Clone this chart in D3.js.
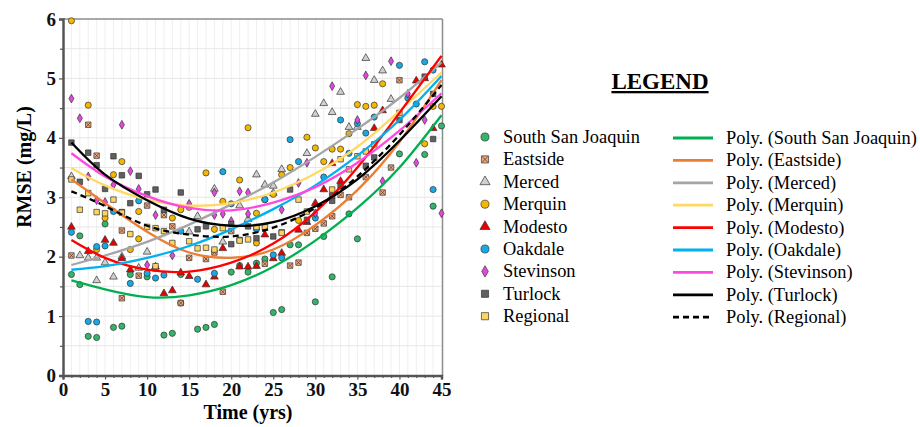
<!DOCTYPE html>
<html>
<head>
<meta charset="utf-8">
<script src="https://cdn.jsdelivr.net/npm/d3@7"></script>
<style>
  body { margin: 0; background: #fff; }
  svg { display: block; font-family: "Liberation Serif", "Times New Roman", serif; }
</style>
</head>
<body>
<svg id="chart" width="920" height="427"></svg>
<script>
// district names, in legend order
let districts = ["South San Joaquin", "Eastside", "Merced", "Merquin", "Modesto",
                 "Oakdale", "Stevinson", "Turlock", "Regional"];

// scatter points [year, RMSE]
let ssjPts = [[1,1.70],[2,1.53],[2,2.35],[3,0.66],[4,0.64],[5,2.55],[6,0.81],[7,0.83],[8,1.70],
  [10,1.66],[12,0.68],[13,0.71],[14,1.70],[14,1.22],[16,0.78],[17,0.81],[18,0.86],[20,1.74],
  [21,1.85],[22,1.74],[23,1.89],[24,1.96],[25,1.06],[26,1.11],[27,2.20],[28,2.20],[30,1.24],
  [31,2.34],[32,1.66],[34,2.72],[35,2.30],[40,3.73],[43,3.72],[44,2.85],[45,4.20]];
let eastsidePts = [[1,2.02],[3,4.22],[4,3.70],[7,1.30],[7,2.44],[9,1.68],[10,2.86],[11,1.80],
  [12,2.70],[13,2.51],[14,1.22],[15,1.98],[17,1.96],[18,2.07],[19,1.41],[20,2.43],[24,1.88],
  [26,2.41],[27,1.85],[28,1.90],[29,2.40],[30,2.47],[31,2.56],[32,2.68],[33,3.04],[34,3.00],
  [36,3.34],[38,3.08],[39,3.50],[40,4.97]];
let mercedPts = [[1,3.35],[2,2.02],[3,1.98],[4,1.98],[4,1.60],[5,1.90],[6,1.66],[7,2.00],
  [9,1.81],[10,2.08],[15,2.42],[16,2.68],[18,3.14],[19,2.25],[21,2.86],[22,2.63],[23,3.38],
  [24,3.21],[25,3.19],[25,3.07],[26,3.47],[29,3.74],[30,4.40],[31,4.58],[32,4.43],[33,4.77],
  [34,4.18],[35,4.18],[36,5.34],[37,4.97],[38,5.13],[39,4.65]];
let merquinPts = [[1,5.97],[3,4.55],[4,2.12],[5,2.65],[6,3.38],[7,3.60],[8,2.12],[9,2.30],
  [9,2.76],[13,2.65],[14,2.79],[15,2.83],[17,3.41],[18,2.46],[19,2.93],[21,3.29],[22,4.17],
  [23,2.73],[23,2.23],[24,2.96],[25,3.05],[26,3.38],[27,3.50],[28,2.61],[29,4.01],[30,3.83],
  [31,3.60],[32,3.81],[33,3.81],[34,4.07],[35,4.56],[36,4.53],[37,4.55],[38,4.91],[43,3.90],
  [44,4.53],[45,4.53]];
let modestoPts = [[1,2.50],[3,2.09],[5,2.28],[6,2.23],[7,1.97],[8,1.78],[11,1.83],[12,1.38],
  [13,1.43],[14,1.73],[15,1.67],[17,1.53],[18,1.66],[19,2.14],[21,1.83],[22,1.83],[23,1.84],
  [24,2.37],[25,1.97],[26,2.06],[28,2.45],[29,2.58],[30,2.90],[31,3.13],[32,3.57],[33,3.27],
  [37,4.16],[38,4.46],[42,4.96],[43,5.00],[44,4.16],[45,5.23]];
let oakdalePts = [[1,2.41],[3,0.91],[4,0.90],[4,2.17],[5,2.18],[6,2.76],[8,1.55],[9,2.94],
  [10,1.72],[11,1.64],[12,1.69],[14,2.43],[16,1.62],[18,1.72],[19,3.43],[20,2.89],[23,2.46],
  [24,2.96],[25,2.03],[26,1.98],[27,3.97],[28,3.60],[30,2.65],[31,3.34],[33,4.30],[34,3.74],
  [35,4.24],[36,4.08],[37,4.35],[40,5.22],[41,4.67],[42,4.57],[43,5.28],[44,5.14],[44,3.13]];
let stevinsonPts = [[1,4.66],[2,4.33],[3,3.35],[4,2.95],[5,2.92],[6,3.21],[7,4.22],[8,3.44],
  [9,3.14],[10,1.86],[11,2.70],[13,2.02],[15,2.89],[18,3.08],[18,2.70],[19,2.72],[20,2.60],
  [21,3.10],[22,3.08],[22,2.72],[26,2.79],[28,3.24],[29,3.58],[30,2.73],[32,4.87],[35,4.30],
  [36,5.05],[38,3.27],[39,5.29],[41,4.74],[42,3.58],[43,4.30],[45,2.73]];
let turlockPts = [[1,3.92],[2,3.26],[3,3.75],[4,3.54],[5,3.14],[6,3.69],[7,3.37],[7,2.75],
  [8,2.90],[9,3.36],[10,3.05],[11,3.13],[12,2.79],[14,3.08],[16,2.46],[17,2.51],[20,2.21],
  [20,2.55],[21,2.28],[22,2.51],[23,2.31],[25,2.34],[27,3.13],[29,2.62],[32,2.94],[32,3.03],
  [33,3.18],[36,3.53],[37,3.67],[40,4.30],[43,5.03],[44,3.98],[44,4.74]];
let regionalPts = [[1,3.30],[2,2.79],[3,3.07],[4,2.75],[5,2.73],[6,2.96],[7,2.74],[8,2.38],
  [10,2.50],[11,2.48],[11,1.84],[12,2.43],[13,2.23],[15,2.26],[16,2.14],[17,2.15],[18,2.12],
  [19,2.48],[21,2.27],[22,2.29],[23,2.50],[24,2.50],[26,2.40],[28,2.96],[29,2.76],[32,3.13],
  [33,3.64],[34,3.47],[35,3.69],[36,3.77],[37,3.89],[40,4.42]];

// polynomial trend lines, values read at these years
let trendYears = [1, 5, 10, 15, 20, 25, 30, 35, 40, 45];
let ssjTrend       = [1.60, 1.45, 1.32, 1.35, 1.52, 1.83, 2.27, 2.82, 3.50, 4.38];
let eastsideTrend  = [3.30, 2.90, 2.42, 2.07, 1.98, 2.12, 2.53, 3.12, 3.93, 4.97];
let mercedTrend    = [1.86, 2.02, 2.25, 2.54, 2.88, 3.25, 3.68, 4.15, 4.67, 5.27];
let merquinTrend   = [3.49, 3.20, 2.96, 2.86, 2.90, 3.08, 3.40, 3.85, 4.45, 5.10];
let modestoTrend   = [2.28, 1.98, 1.78, 1.75, 1.90, 2.22, 2.75, 3.50, 4.42, 5.38];
let oakdaleTrend   = [1.78, 1.84, 1.98, 2.18, 2.46, 2.80, 3.20, 3.70, 4.30, 5.04];
let stevinsonTrend = [3.74, 3.35, 3.02, 2.82, 2.78, 2.91, 3.17, 3.58, 4.12, 4.75];
let turlockTrend   = [3.92, 3.38, 2.95, 2.64, 2.52, 2.58, 2.85, 3.30, 3.95, 4.70];
let regionalTrend  = [3.10, 2.85, 2.52, 2.37, 2.34, 2.49, 2.82, 3.35, 4.05, 4.89];

let xTicks = [0, 5, 10, 15, 20, 25, 30, 35, 40, 45];
let yTicks = [0, 1, 2, 3, 4, 5, 6];

let pointSets = [ssjPts, eastsidePts, mercedPts, merquinPts, modestoPts,
                 oakdalePts, stevinsonPts, turlockPts, regionalPts];
let trendSets = [ssjTrend, eastsideTrend, mercedTrend, merquinTrend, modestoTrend,
                 oakdaleTrend, stevinsonTrend, turlockTrend, regionalTrend];

// marker look per district
let markerShape = ["circle", "xsquare", "triangle", "circle", "triangle",
                   "circle", "diamond", "square", "square"];
let markerFill = ["#33b46a", "#eeaa80", "#d0d0d0", "#f5b800", "#e60000",
                  "#16a9e6", "#e545e0", "#5f5f5f", "#fbd462"];
let lineColor = ["#00b050", "#ed7d31", "#a5a5a5", "#ffd966", "#ff0000",
                 "#00b0f0", "#ff48e0", "#000000", "#000000"];

const serif = "Liberation Serif, Times New Roman, serif";
let svg = d3.select("#chart");

let x = d3.scaleLinear().domain([0, 45]).range([63, 441.5]);
let y = d3.scaleLinear().domain([0, 6]).range([375.5, 19]);

// grid
let grid = svg.append("g");
grid.selectAll(".vg")
  .data(d3.range(1, 45))
  .enter().append("line")
  .attr("x1", d => x(d)).attr("x2", d => x(d))
  .attr("y1", y(6)).attr("y2", y(0))
  .attr("stroke", "#efefef").attr("stroke-width", 1);
grid.selectAll(".hg")
  .data(d3.range(0.5, 6, 0.5))
  .enter().append("line")
  .attr("x1", x(0)).attr("x2", x(45))
  .attr("y1", d => y(d)).attr("y2", d => y(d))
  .attr("stroke", "#e6e6e6").attr("stroke-width", 1);

// frame top / right
svg.append("line").attr("x1", x(0)).attr("x2", x(45) + 1).attr("y1", y(6)).attr("y2", y(6))
  .attr("stroke", "#8c8c8c").attr("stroke-width", 1.5);
svg.append("line").attr("x1", x(45) + 1).attr("x2", x(45) + 1).attr("y1", y(6)).attr("y2", y(0))
  .attr("stroke", "#8c8c8c").attr("stroke-width", 1.5);

// markers
let symSize = { circle: 30, triangle: 26, diamond: 22, square: 30, xsquare: 30 };
let symType = { circle: d3.symbolCircle, triangle: d3.symbolTriangle, diamond: d3.symbolDiamond,
                square: d3.symbolSquare, xsquare: d3.symbolSquare };

function drawMarker(g, i, cx, cy, scale) {
  let shape = markerShape[i];
  let m = g.append("g").attr("transform", "translate(" + cx + "," + cy + ")");
  m.append("path")
    .attr("d", d3.symbol().type(symType[shape]).size(symSize[shape] * scale)())
    .attr("fill", markerFill[i])
    .attr("stroke", "#333")
    .attr("stroke-width", 0.7);
  if (shape == "xsquare") {
    let h = Math.sqrt(symSize[shape] * scale) / 2 - 0.6;
    m.append("path")
      .attr("d", "M" + (-h) + "," + (-h) + "L" + h + "," + h + "M" + h + "," + (-h) + "L" + (-h) + "," + h)
      .attr("stroke", "#6b3a1f").attr("stroke-width", 0.8);
  }
}

let pts = svg.append("g");
pointSets.forEach((set, i) => {
  set.forEach(p => drawMarker(pts, i, x(p[0]), y(p[1]), 1));
});

// trend lines
let line = d3.line()
  .x(d => x(d[0]))
  .y(d => y(d[1]))
  .curve(d3.curveNatural);

trendSets.forEach((vals, i) => {
  svg.append("path")
    .datum(trendYears.map((t, k) => [t, vals[k]]))
    .attr("d", line)
    .attr("fill", "none")
    .attr("stroke", lineColor[i])
    .attr("stroke-width", 2.3)
    .attr("stroke-dasharray", i == 8 ? "6,4" : null);
});

// axes
let yAxis = svg.append("g").attr("transform", "translate(" + x(0) + ",0)")
  .call(d3.axisLeft(y).tickValues(yTicks).tickSize(4).tickFormat(d3.format("d")));
svg.append("g").attr("transform", "translate(" + x(0) + ",0)")
  .call(d3.axisLeft(y).tickValues(d3.range(0.5, 6, 1)).tickSize(3).tickFormat(""))
  .select(".domain").remove();
let xAxis = svg.append("g").attr("transform", "translate(0," + y(0) + ")")
  .call(d3.axisBottom(x).tickValues(xTicks).tickSize(4).tickFormat(d3.format("d")));
svg.append("g").attr("transform", "translate(0," + y(0) + ")")
  .call(d3.axisBottom(x).tickValues(d3.range(1, 45).filter(d => d % 5)).tickSize(2.5).tickFormat(""))
  .select(".domain").remove();

svg.selectAll(".domain").attr("stroke", "#555").attr("stroke-width", 2.5);
svg.selectAll(".tick line").attr("stroke", "#555").attr("stroke-width", 1.2);
yAxis.selectAll("text").attr("x", -7).attr("font-size", 19).attr("font-weight", "bold")
  .attr("font-family", serif).attr("fill", "#111");
xAxis.selectAll("text").attr("y", 7).attr("font-size", 19).attr("font-weight", "bold")
  .attr("font-family", serif).attr("fill", "#111");

// axis titles
svg.append("text")
  .attr("transform", "translate(31,167) rotate(-90)")
  .attr("text-anchor", "middle")
  .attr("font-family", serif)
  .attr("font-size", 20).attr("font-weight", "bold")
  .text("RMSE (mg/L)");
svg.append("text")
  .attr("x", 248).attr("y", 419)
  .attr("text-anchor", "middle")
  .attr("font-family", serif)
  .attr("font-size", 20).attr("font-weight", "bold")
  .text("Time (yrs)");

// legend
let lg = svg.append("g").attr("font-family", serif);
lg.append("text")
  .attr("x", 660).attr("y", 89)
  .attr("text-anchor", "middle")
  .attr("font-size", 23).attr("font-weight", "bold")
  .attr("text-decoration", "underline")
  .text("LEGEND");

districts.forEach((name, i) => {
  let cy = 137 + i * 22.4;
  drawMarker(lg, i, 485, cy, 1.7);
  lg.append("text")
    .attr("x", 503).attr("y", cy + 6)
    .attr("font-size", 18.4)
    .text(name);
  lg.append("line")
    .attr("x1", 673).attr("x2", 713)
    .attr("y1", cy + 1).attr("y2", cy + 1)
    .attr("stroke", lineColor[i])
    .attr("stroke-width", 2.8)
    .attr("stroke-dasharray", i == 8 ? "6,4" : null);
  lg.append("text")
    .attr("x", 726).attr("y", cy + 7)
    .attr("font-size", 18.4)
    .text("Poly. (" + name + ")");
});
</script>
</body>
</html>
